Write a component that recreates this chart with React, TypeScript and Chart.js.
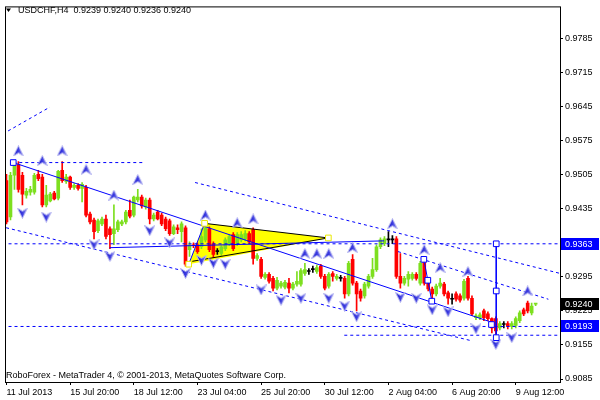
import React, { useEffect, useRef } from "react";
import { Chart, registerables } from "chart.js";
Chart.register(...registerables);

// ---- Candles (USDCHF H4) ----
const OPEN = [
  0.9493, 0.9418, 0.9504, 0.9526, 0.9504, 0.9463, 0.9469, 0.9469, 0.9506, 0.95,
  0.9443, 0.9451, 0.9467, 0.9457, 0.9514, 0.9491, 0.95, 0.9479, 0.9483, 0.9477,
  0.9479, 0.9424, 0.9412, 0.939, 0.9404, 0.9414, 0.9394, 0.9384, 0.9392, 0.9404,
  0.9408, 0.9432, 0.9422, 0.9453, 0.9459, 0.9439, 0.9453, 0.9414, 0.9428, 0.9422,
  0.9414, 0.941, 0.9384, 0.9396, 0.9388, 0.9396, 0.9351, 0.9361, 0.9361, 0.9357,
  0.9371, 0.9394, 0.9363, 0.9347, 0.9343, 0.9353, 0.9363, 0.9382, 0.9363, 0.9371,
  0.9373, 0.9384, 0.9392, 0.9333, 0.9331, 0.9294, 0.93, 0.9292, 0.9272, 0.9276,
  0.9274, 0.9282, 0.9272, 0.928, 0.928, 0.9302, 0.9306, 0.931, 0.9306, 0.9317,
  0.9296, 0.9276, 0.9302, 0.9292, 0.9292, 0.9292, 0.926, 0.9331, 0.9282, 0.9266,
  0.9256, 0.9276, 0.9296, 0.931, 0.9357, 0.9363, 0.9371, 0.9371, 0.9373, 0.9296,
  0.9282, 0.929, 0.9292, 0.93, 0.9282, 0.9331, 0.929, 0.927, 0.926, 0.9276,
  0.928, 0.9262, 0.9249, 0.926, 0.9256, 0.9251, 0.9292, 0.9251, 0.9211, 0.9211,
  0.9225, 0.9219, 0.9209, 0.9209, 0.919, 0.9197, 0.9199, 0.9193, 0.9195, 0.9205,
  0.9227, 0.9241, 0.9221, 0.9239,
];
const HIGH = [
  0.9506, 0.951, 0.9532, 0.9532, 0.951, 0.9477, 0.9481, 0.9508, 0.9514, 0.9506,
  0.9483, 0.9469, 0.9471, 0.9514, 0.9532, 0.9506, 0.9502, 0.9487, 0.9487, 0.9489,
  0.9483, 0.9428, 0.9416, 0.9414, 0.9418, 0.9422, 0.9398, 0.9443, 0.9412, 0.9412,
  0.9432, 0.9453, 0.9461, 0.9475, 0.9463, 0.9457, 0.9457, 0.9426, 0.9432, 0.9426,
  0.9418, 0.9414, 0.9402, 0.9402, 0.9408, 0.94, 0.9367, 0.9365, 0.9365, 0.9394,
  0.94, 0.9398, 0.9367, 0.9353, 0.9359, 0.9375, 0.9382, 0.9386, 0.9386, 0.9388,
  0.939, 0.9388, 0.9396, 0.9343, 0.9335, 0.9304, 0.9304, 0.9296, 0.9294, 0.9286,
  0.9288, 0.9292, 0.9284, 0.9306, 0.9312, 0.9323, 0.9312, 0.9317, 0.9319, 0.9321,
  0.93, 0.9304, 0.9306, 0.93, 0.9298, 0.9296, 0.9327, 0.9341, 0.9286, 0.927,
  0.9284, 0.93, 0.9333, 0.9361, 0.9375, 0.9378, 0.9388, 0.938, 0.9378, 0.9343,
  0.9296, 0.9306, 0.9304, 0.9304, 0.9327, 0.9335, 0.9294, 0.9274, 0.928, 0.9292,
  0.9284, 0.9266, 0.926, 0.9264, 0.926, 0.929, 0.9296, 0.9256, 0.9219, 0.9221,
  0.9229, 0.9223, 0.9211, 0.9213, 0.9203, 0.9203, 0.9203, 0.9203, 0.9213, 0.9225,
  0.9231, 0.9245, 0.9241, 0.924,
];
const LOW = [
  0.9404, 0.9412, 0.9475, 0.9469, 0.9443, 0.9457, 0.9463, 0.9465, 0.9493, 0.9439,
  0.9439, 0.9449, 0.9453, 0.9453, 0.9489, 0.9487, 0.9475, 0.9475, 0.9473, 0.9449,
  0.9418, 0.9404, 0.9373, 0.9386, 0.94, 0.9373, 0.9353, 0.9361, 0.9388, 0.94,
  0.9404, 0.9416, 0.9418, 0.9449, 0.9436, 0.9434, 0.9404, 0.941, 0.9412, 0.94,
  0.939, 0.938, 0.9382, 0.9384, 0.9367, 0.9317, 0.9337, 0.9355, 0.9343, 0.9353,
  0.9367, 0.9347, 0.9335, 0.9341, 0.9339, 0.9349, 0.9359, 0.9349, 0.9359, 0.9367,
  0.9369, 0.9363, 0.9321, 0.9329, 0.9292, 0.929, 0.9282, 0.9266, 0.9268, 0.9272,
  0.927, 0.9262, 0.9268, 0.9276, 0.9276, 0.9298, 0.93, 0.9304, 0.9302, 0.9292,
  0.9268, 0.9272, 0.9286, 0.9288, 0.9286, 0.9251, 0.9256, 0.9278, 0.9225, 0.9245,
  0.9251, 0.9272, 0.9292, 0.9306, 0.9353, 0.9359, 0.9357, 0.9363, 0.9292, 0.9272,
  0.9278, 0.9276, 0.9288, 0.9288, 0.9278, 0.9278, 0.9266, 0.9241, 0.9256, 0.9272,
  0.9256, 0.9239, 0.9239, 0.9245, 0.9243, 0.9247, 0.9247, 0.9215, 0.9207, 0.9207,
  0.9205, 0.9205, 0.918, 0.9172, 0.9186, 0.919, 0.9188, 0.9188, 0.919, 0.9201,
  0.9215, 0.9221, 0.9217, 0.9236,
];
const CLOSE = [
  0.9408, 0.9504, 0.9526, 0.9475, 0.9465, 0.9471, 0.9475, 0.9504, 0.9497, 0.9443,
  0.9463, 0.9465, 0.9455, 0.9512, 0.9493, 0.95, 0.9479, 0.9483, 0.9477, 0.9485,
  0.9422, 0.9408, 0.9388, 0.941, 0.9414, 0.9378, 0.9382, 0.9394, 0.9408, 0.9408,
  0.9428, 0.942, 0.9459, 0.9459, 0.9441, 0.9453, 0.9414, 0.9422, 0.9414, 0.9404,
  0.9394, 0.9384, 0.9398, 0.9392, 0.9404, 0.9321, 0.9361, 0.9359, 0.9347, 0.9378,
  0.9396, 0.9351, 0.9341, 0.9347, 0.9357, 0.9371, 0.9378, 0.9353, 0.9382, 0.9382,
  0.9384, 0.9367, 0.9333, 0.9339, 0.9296, 0.93, 0.9286, 0.9272, 0.9288, 0.9282,
  0.9284, 0.9272, 0.928, 0.9286, 0.9308, 0.931, 0.9306, 0.931, 0.9314, 0.9296,
  0.9272, 0.93, 0.9296, 0.9296, 0.9292, 0.926, 0.9323, 0.9282, 0.926, 0.9251,
  0.928, 0.9296, 0.931, 0.9357, 0.9371, 0.9373, 0.9371, 0.9371, 0.9296, 0.9282,
  0.9292, 0.93, 0.93, 0.9292, 0.9323, 0.9282, 0.927, 0.926, 0.9276, 0.9282,
  0.926, 0.9251, 0.9249, 0.9249, 0.9247, 0.9286, 0.9251, 0.9219, 0.9215, 0.9217,
  0.9211, 0.9209, 0.919, 0.9184, 0.9199, 0.9197, 0.9193, 0.9199, 0.9209, 0.9221,
  0.9219, 0.9225, 0.9235, 0.924,
];

// ---- Axes ----
const X_TICK_INDEX = [0, 16, 32, 48, 64, 80, 96, 112, 128];
const X_TICK_LABELS = [
  "11 Jul 2013", "15 Jul 20:00", "18 Jul 12:00", "23 Jul 04:00", "25 Jul 20:00",
  "30 Jul 12:00", "2 Aug 04:00", "6 Aug 20:00", "9 Aug 12:00",
];
const Y_TICKS = [0.9085, 0.9155, 0.9225, 0.9295, 0.9365, 0.9435, 0.9505, 0.9575, 0.9645, 0.9715, 0.9785];
const PRICE_LEVELS = [0.9363, 0.924, 0.9193];

const TITLE = "USDCHF,H4  0.9239 0.9240 0.9236 0.9240";
const COPYRIGHT = "RoboForex - MetaTrader 4, © 2001-2013, MetaQuotes Software Corp.";

// ---- Objects (bar index, price) ----
const SOLID_LINES = [
  [[1.7, 0.953], [122.2, 0.9201]],
  [[25.9, 0.9355], [94.9, 0.9369]],
  [[45.8, 0.9321], [49.8, 0.9405]],
  [[104.9, 0.9331], [105.9, 0.9288], [106.9, 0.9245]],
  [[123.1, 0.9363], [123.1, 0.917]],
];
const DASHED_LINES = [
  [[-1, 0.9363], [140, 0.9363]],
  [[-1, 0.9193], [140, 0.9193]],
  [[84.9, 0.9175], [140, 0.9175]],
  [[1.7, 0.953], [34.2, 0.953]],
  [[0.4, 0.9595], [10.9, 0.9644]],
  [[-0.1, 0.9396], [116.7, 0.9164]],
  [[47.4, 0.9489], [139.2, 0.9302]],
  [[98.4, 0.9347], [136.2, 0.9249]],
];
const TRIANGLE = [[45.8, 0.9321], [49.8, 0.9405], [80.9, 0.9375]];
const TRIANGLE_EDGES = [
  [[49.8, 0.9405], [80.9, 0.9375]],
  [[46.7, 0.9327], [80.9, 0.9375]],
];
const BLUE_SQUARES = [
  [1.7, 0.953], [123.1, 0.9363], [123.1, 0.9266], [123.1, 0.917], [121.9, 0.9197],
  [104.9, 0.9331], [105.9, 0.9288], [106.9, 0.9245],
];

const UP_ARROW_X = [3, 9, 14, 20, 27, 33, 50, 58, 62, 75, 78, 81, 87, 97, 105, 109, 116, 131];
const UP_ARROW_Y = [0.9554, 0.9534, 0.9554, 0.9516, 0.9463, 0.9495, 0.9422, 0.9406, 0.9414, 0.9343, 0.9343, 0.9343, 0.9355, 0.9404, 0.9351, 0.9314, 0.9306, 0.9266];
const DOWN_ARROW_X = [4, 10, 22, 26, 36, 41, 45, 49, 52, 55, 64, 69, 74, 81, 85, 88, 99, 103, 107, 111, 118, 123, 127];
const DOWN_ARROW_Y = [0.9426, 0.9418, 0.9361, 0.9337, 0.939, 0.9365, 0.9302, 0.9329, 0.9323, 0.9321, 0.9268, 0.9247, 0.9251, 0.9251, 0.9235, 0.9213, 0.9253, 0.9251, 0.9227, 0.9223, 0.9188, 0.9156, 0.917];

const FONT = '9px "Liberation Sans", Arial, sans-serif';
const BLUE = "#0000ff";
const BULL = "#7ddf1f";
const BEAR = "#ff0000";

function makeArrow(up: boolean): HTMLCanvasElement {
  const c = document.createElement("canvas");
  c.width = 11;
  c.height = 11;
  const g = c.getContext("2d")!;
  g.beginPath();
  if (up) {
    g.moveTo(5.5, 0.5); g.lineTo(10.5, 10.5); g.lineTo(5.5, 7.5); g.lineTo(0.5, 10.5);
  } else {
    g.moveTo(5.5, 10.5); g.lineTo(10.5, 0.5); g.lineTo(5.5, 3.5); g.lineTo(0.5, 0.5);
  }
  g.closePath();
  const grad = g.createLinearGradient(0, 0, 11, 0);
  grad.addColorStop(0, "#1414c8");
  grad.addColorStop(0.5, "#3a3ae0");
  grad.addColorStop(1, "#9a9af2");
  g.fillStyle = grad;
  g.fill();
  g.strokeStyle = "#b4b4f0";
  g.lineWidth = 1;
  g.stroke();
  return c;
}

const pts = (arr: number[][]) => arr.map(([x, y]) => ({ x, y }));

export default function App() {
  const ref = useRef<HTMLCanvasElement>(null);
  useEffect(() => {
    document.body.style.margin = "0";
    const canvas = ref.current!;
    const colors = OPEN.map((o, i) => (CLOSE[i] > o ? BULL : CLOSE[i] < o ? BEAR : "#000000"));
    const wicks = OPEN.map((_, i) => ({ x: i, y: [LOW[i], HIGH[i]] }));
    const bodies = OPEN.map((o, i) => ({ x: i, y: [Math.min(o, CLOSE[i]), Math.max(o, CLOSE[i])] }));

    const lineBase = { type: "line", pointRadius: 0, borderWidth: 1, tension: 0, fill: false };
    const datasets: any[] = [
      { type: "bar", data: wicks, backgroundColor: colors, barThickness: 1, grouped: false, order: 6 },
      { type: "bar", data: bodies, backgroundColor: colors, barThickness: 3, minBarLength: 1, grouped: false, order: 5 },
      ...TRIANGLE_EDGES.map((l) => ({ ...lineBase, data: pts(l), borderColor: "#000000", order: 4 })),
      ...SOLID_LINES.map((l) => ({ ...lineBase, data: pts(l), borderColor: BLUE, order: 3 })),
      ...DASHED_LINES.map((l) => ({ ...lineBase, data: pts(l), borderColor: BLUE, borderDash: [3, 3], order: 3 })),
      {
        type: "line", showLine: false, order: 1,
        data: UP_ARROW_X.map((x, i) => ({ x, y: UP_ARROW_Y[i] })),
        pointStyle: makeArrow(true), pointRadius: 5,
      },
      {
        type: "line", showLine: false, order: 1,
        data: DOWN_ARROW_X.map((x, i) => ({ x, y: DOWN_ARROW_Y[i] })),
        pointStyle: makeArrow(false), pointRadius: 5,
      },
      {
        type: "line", showLine: false, order: 0, data: pts(BLUE_SQUARES),
        pointStyle: "rect", pointRadius: 4, pointBorderColor: BLUE, pointBackgroundColor: "#ffffff", pointBorderWidth: 1,
      },
      {
        type: "line", showLine: false, order: 0, data: pts(TRIANGLE),
        pointStyle: "rect", pointRadius: 4, pointBorderColor: "#e8e800", pointBackgroundColor: "#ffffff", pointBorderWidth: 1,
      },
    ];

    const decor = {
      id: "mt4decor",
      beforeDatasetsDraw(chart: any) {
        const { ctx, scales } = chart;
        const { x, y } = scales;
        ctx.save();
        ctx.beginPath();
        TRIANGLE.forEach(([i, p], k) => {
          const px = x.getPixelForValue(i);
          const py = y.getPixelForValue(p);
          if (k) ctx.lineTo(px, py);
          else ctx.moveTo(px, py);
        });
        ctx.closePath();
        ctx.fillStyle = "#ffff00";
        ctx.fill();
        ctx.restore();
      },
      afterDraw(chart: any) {
        const { ctx, chartArea, scales } = chart;
        const y = scales.y;
        ctx.save();
        // frame
        ctx.strokeStyle = "#000000";
        ctx.lineWidth = 1;
        ctx.strokeRect(chartArea.left - 0.5, chartArea.top - 0.5, chartArea.right - chartArea.left + 1, chartArea.bottom - chartArea.top + 1);
        // price boxes
        const boxColors = ["#0000ff", "#000000", "#0000ff"];
        ctx.font = FONT;
        ctx.textBaseline = "middle";
        ctx.textAlign = "left";
        PRICE_LEVELS.forEach((v, k) => {
          const py = Math.round(y.getPixelForValue(v));
          ctx.fillStyle = boxColors[k];
          ctx.fillRect(chartArea.right + 1, py - 6, 38, 12);
          ctx.fillStyle = "#ffffff";
          ctx.fillText(v.toFixed(4), chartArea.right + 5, py + 0.5);
        });
        // title
        ctx.fillStyle = "#000000";
        ctx.beginPath();
        ctx.moveTo(6, 8.5);
        ctx.lineTo(11, 8.5);
        ctx.lineTo(8.5, 12);
        ctx.closePath();
        ctx.fill();
        ctx.fillText(TITLE, 18, 10.5);
        ctx.fillText(COPYRIGHT, 6, 376);
        ctx.restore();
      },
    };

    const chart = new Chart(canvas, {
      type: "bar",
      data: { datasets },
      options: {
        responsive: false,
        animation: false,
        events: [],
        layout: { padding: { left: 3, top: 3, right: 0, bottom: 0 } },
        plugins: { legend: { display: false }, tooltip: { enabled: false } },
        scales: {
          x: {
            type: "linear",
            min: -0.125,
            max: 139.125,
            offset: false,
            border: { display: false },
            grid: { display: true, offset: false, drawOnChartArea: false, drawTicks: true, tickLength: 3, color: "#000000" },
            ticks: {
              autoSkip: false, maxRotation: 0, minRotation: 0, align: "start", padding: 2,
              color: "#000000", font: { family: '"Liberation Sans", Arial, sans-serif', size: 9 },
              callback: (v: any) => {
                const k = X_TICK_INDEX.indexOf(Number(v));
                return k >= 0 ? X_TICK_LABELS[k] : "";
              },
            },
            afterBuildTicks: (s: any) => { s.ticks = X_TICK_INDEX.map((v) => ({ value: v })); },
            afterFit: (s: any) => { s.height = 18; },
          },
          y: {
            type: "linear",
            position: "right",
            min: 0.907884,
            max: 0.984901,
            border: { display: false },
            grid: { display: true, drawOnChartArea: false, drawTicks: true, tickLength: 3, color: "#000000" },
            ticks: {
              autoSkip: false, padding: 2, color: "#000000",
              font: { family: '"Liberation Sans", Arial, sans-serif', size: 9 },
              callback: (v: any) => Number(v).toFixed(4),
            },
            afterBuildTicks: (s: any) => { s.ticks = Y_TICKS.map((v) => ({ value: v })); },
            afterFit: (s: any) => { s.width = 40; },
          },
        },
      } as any,
      plugins: [decor],
    } as any);
    return () => chart.destroy();
  }, []);
  return (
    <div style={{ position: "fixed", left: 0, top: 0, width: 600, height: 400, background: "#ffffff" }}>
      <canvas ref={ref} width={600} height={400} style={{ display: "block", width: 600, height: 400 }} />
    </div>
  );
}
